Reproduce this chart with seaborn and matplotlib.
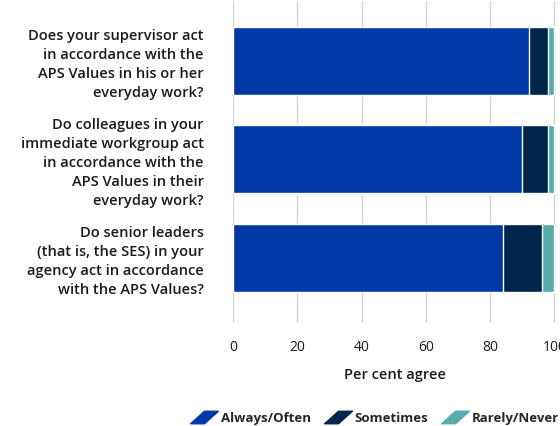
import numpy as np
import pandas as pd
import seaborn as sns
import matplotlib
matplotlib.use("Agg")
import matplotlib.pyplot as plt
from matplotlib.path import Path
from matplotlib.lines import Line2D

questions = [
    "Does your supervisor act\nin accordance with the\nAPS Values in his or her\neveryday work?",
    "Do colleagues in your\nimmediate workgroup act\nin accordance with the\nAPS Values in their\neveryday work?",
    "Do senior leaders\n(that is, the SES) in your\nagency act in accordance\nwith the APS Values?",
]
always_often = [92, 90, 84]
sometimes = [6, 8, 12]
rarely_never = [2, 2, 4]

series = ["Always/Often", "Sometimes", "Rarely/Never"]
colors = ["#0039a6", "#00264d", "#55acab"]

sns.set_theme(style="white")
plt.rcParams["font.family"] = ["Open Sans", "DejaVu Sans"]

df = pd.DataFrame({"q": questions, "a": always_often, "s": sometimes, "r": rarely_never})
df["cum_s"] = df["a"] + df["s"]
df["cum_r"] = df["cum_s"] + df["r"]

fig = plt.figure(figsize=(5.6, 4.26), dpi=100)
ax = fig.add_axes([0.416, 0.242, 0.577, 0.756])

for col, c in zip(["cum_r", "cum_s", "a"], colors[::-1]):
    sns.barplot(data=df, x=col, y="q", color=c, orient="h", width=0.69,
                saturation=1, ax=ax, zorder=3)

ax.set_xlim(0, 100.5)
ax.set_ylim(2.66, -0.61)
ax.set_xticks([0, 20, 40, 60, 80, 100])
ax.grid(axis="x", color="#d4d4d4", linewidth=1, zorder=0)
ax.grid(axis="y", visible=False)
for s in ax.spines.values():
    s.set_visible(False)
ax.tick_params(axis="x", length=0, pad=12, labelsize=10, labelcolor="#1a1a1a")
ax.tick_params(axis="y", length=0, pad=21)
ax.set_yticks(range(3))
ax.set_yticklabels(questions, fontsize=10.5, fontweight="semibold",
                   linespacing=1.45, color="#1a1a1a", ha="right")
ax.set_ylabel("")
ax.set_xlabel("Per cent agree", fontsize=10.5, labelpad=10, color="#1a1a1a",
              fontweight="semibold")

para = Path([(-1.0, -0.45), (0.0, -0.45), (1.0, 0.45), (0.0, 0.45), (-1.0, -0.45)],
            [Path.MOVETO, Path.LINETO, Path.LINETO, Path.LINETO, Path.CLOSEPOLY])
handles = [Line2D([], [], marker=para, linestyle="none", markersize=20,
                  markerfacecolor=c, markeredgecolor=c) for c in colors]
fig.legend(handles, series, loc="lower right", bbox_to_anchor=(1.02, -0.025),
           ncol=3, frameon=False, handlelength=2.0,
           columnspacing=1.0, handletextpad=0.3,
           prop={"weight": "bold", "size": 9.5})

fig.savefig("out.png", dpi=100)
